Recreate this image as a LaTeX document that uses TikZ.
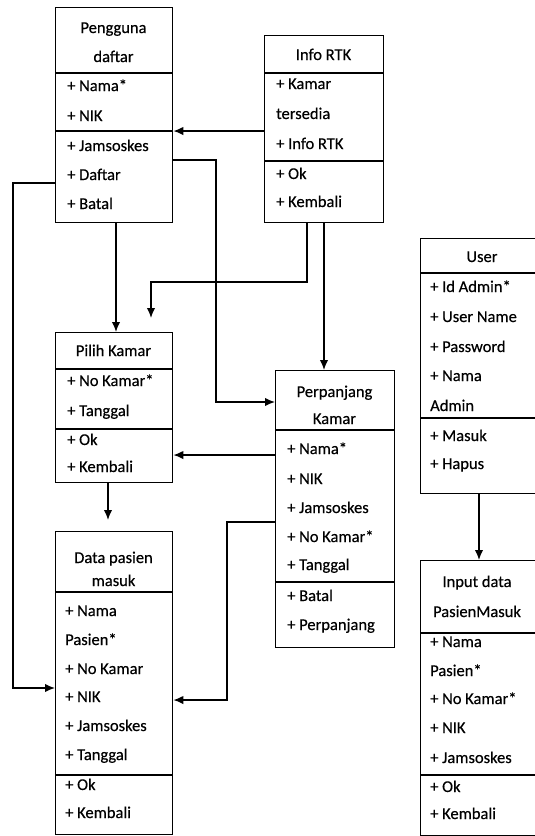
\documentclass[tikz,border=0pt]{standalone}
\usepackage{fontspec}
\setmainfont[FakeBold=0.4]{Carlito}
\usetikzlibrary{arrows.meta,calc}
\begin{document}
\begin{tikzpicture}[x=1pt,y=-1pt,
  box/.style={draw, line width=1.4pt, inner sep=0pt, anchor=north west},
  sepline/.style={line width=1.4pt},
  txt/.style={inner sep=0pt, font=\fontsize{16.5}{19}\selectfont, text height=11pt, text depth=3pt},
  attr/.style={txt, anchor=west},
  ttl/.style={txt, anchor=center},
  arr/.style={line width=1.4pt, -{Latex[length=10pt,width=8.5pt]}}]
\useasboundingbox (0,0) rectangle (535,836);
\clip (0,0) rectangle (535,836);

% ---------- boxes ----------
\node[box, minimum width=117pt, minimum height=215pt] (pd) at (55,7) {};
\node[box, minimum width=119pt, minimum height=187pt] (rtk) at (264,35) {};
\node[box, minimum width=117pt, minimum height=150pt] (pk) at (55,332) {};
\node[box, minimum width=119pt, minimum height=277pt] (pp) at (275,370) {};
\node[box, minimum width=117pt, minimum height=303pt] (dp) at (55,531) {};
\node[box, minimum width=125pt, minimum height=255pt] (us) at (420,238) {};
\node[box, minimum width=125pt, minimum height=275pt] (in) at (420,560) {};

% ---------- separators ----------
\draw[sepline] (pd.west |- 0,73) -- (pd.east |- 0,73);
\draw[sepline] (pd.west |- 0,131) -- (pd.east |- 0,131);
\draw[sepline] (rtk.west |- 0,73) -- (rtk.east |- 0,73);
\draw[sepline] (rtk.west |- 0,161) -- (rtk.east |- 0,161);
\draw[sepline] (pk.west |- 0,369) -- (pk.east |- 0,369);
\draw[sepline] (pk.west |- 0,429) -- (pk.east |- 0,429);
\draw[sepline] (pp.west |- 0,430) -- (pp.east |- 0,430);
\draw[sepline] (pp.west |- 0,582) -- (pp.east |- 0,582);
\draw[sepline] (dp.west |- 0,592) -- (dp.east |- 0,592);
\draw[sepline] (dp.west |- 0,775) -- (dp.east |- 0,775);
\draw[sepline] (us.west |- 0,273) -- (us.east |- 0,273);
\draw[sepline] (us.west |- 0,418) -- (us.east |- 0,418);
\draw[sepline] (in.west |- 0,633) -- (in.east |- 0,633);
\draw[sepline] (in.west |- 0,775) -- (in.east |- 0,775);

% ---------- titles ----------
\node[ttl] (pdt1) at (113.5,29) {Pengguna};
\node[ttl] (pdt2) at (113.5,58) {daftar};
\node[ttl] (rtkt) at (323.5,56) {Info RTK};
\node[ttl] (pkt) at (113.5,352) {Pilih Kamar};
\node[ttl] (ppt1) at (334.5,393) {Perpanjang};
\node[ttl] (ppt2) at (334.5,420) {Kamar};
\node[ttl] (dpt1) at (113.5,559) {Data pasien};
\node[ttl] (dpt2) at (113.5,582) {masuk};
\node[ttl] (ust) at (482,258) {User};
\node[ttl] (int1) at (477,583) {Input data};
\node[ttl] (int2) at (477,613) {PasienMasuk};

% ---------- attributes ----------
\foreach \t/\y [count=\i] in {+ Nama*/87, + NIK/117, + Jamsoskes/147, + Daftar/176, + Batal/205}
  \node[attr] (pda\i) at (67,\y) {\t};
\foreach \t/\y [count=\i] in {+ Kamar/85, tersedia/115, + Info RTK/145, + Ok/175, + Kembali/203}
  \node[attr] (rtka\i) at (276,\y) {\t};
\foreach \t/\y [count=\i] in {+ No Kamar*/382, + Tanggal/412, + Ok/441, + Kembali/468}
  \node[attr] (pka\i) at (67,\y) {\t};
\foreach \t/\y [count=\i] in {+ Nama*/450, + NIK/480, + Jamsoskes/509, + No Kamar*/538, + Tanggal/566, + Batal/597, + Perpanjang/626}
  \node[attr] (ppa\i) at (287,\y) {\t};
\foreach \t/\y [count=\i] in {+ Nama/612, Pasien*/641, + No Kamar/670, + NIK/698, + Jamsoskes/727, + Tanggal/756, + Ok/786, + Kembali/814}
  \node[attr] (dpa\i) at (65,\y) {\t};
\foreach \t/\y [count=\i] in {+ Id Admin*/288, + User Name/318, + Password/348, + Nama/377, Admin/407, + Masuk/437, + Hapus/465}
  \node[attr] (usa\i) at (430,\y) {\t};
\foreach \t/\y [count=\i] in {+ Nama/643, Pasien*/672, + No Kamar*/700, + NIK/729, + Jamsoskes/759, + Ok/788, + Kembali/815}
  \node[attr] (ina\i) at (430,\y) {\t};

% ---------- free arrow ends ----------
\coordinate (end1) at (151,318);
\coordinate (end2) at (108,520);

% ---------- connectors ----------
\draw[arr] (rtk.west |- 0,131) -- (pd.east |- 0,131);
\draw[arr] (pd.east |- 0,160) -- (216,160) -- (216,402) -- (pp.west |- 0,402);
\draw[arr] (pd.west |- 0,183) -- (13,183) -- (13,688) -- (dp.west |- 0,688);
\draw[arr] (pd.south -| 116,0) -- (pk.north -| 116,0);
\draw[arr] (rtk.south -| 307,0) -- (307,282) -- (151,282) -- (end1);
\draw[arr] (rtk.south -| 324,0) -- (pp.north -| 324,0);
\draw[arr] (pp.west |- 0,455) -- (pk.east |- 0,455);
\draw[arr] (pk.south -| 108,0) -- (end2);
\draw[arr] (pp.west |- 0,522) -- (227,522) -- (227,700) -- (dp.east |- 0,700);
\draw[arr] (us.south -| 479,0) -- (in.north -| 479,0);
\end{tikzpicture}
\end{document}
